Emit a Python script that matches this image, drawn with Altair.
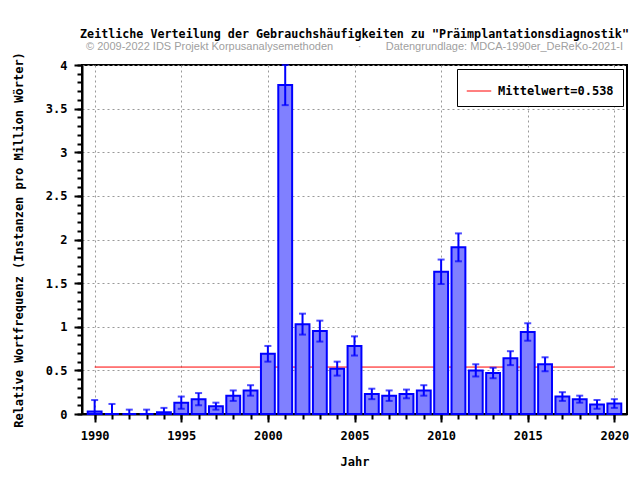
import altair as alt
import pandas as pd

years = list(range(1990, 2021))
values = [0.03, 0.0, 0.0, 0.0, 0.02, 0.13, 0.17, 0.09, 0.21, 0.27,
          0.69, 3.77, 1.03, 0.95, 0.52, 0.78, 0.23, 0.21, 0.23, 0.27,
          1.63, 1.91, 0.50, 0.47, 0.64, 0.94, 0.57, 0.20, 0.17, 0.11, 0.12]
upper = [0.16, 0.115, 0.05, 0.05, 0.07, 0.20, 0.24, 0.13, 0.27, 0.33,
         0.78, 4.0, 1.15, 1.07, 0.60, 0.89, 0.29, 0.27, 0.28, 0.33,
         1.77, 2.07, 0.57, 0.53, 0.72, 1.04, 0.65, 0.25, 0.21, 0.16, 0.17]
lower = [0.0, 0.0, 0.0, 0.0, 0.0, 0.06, 0.10, 0.05, 0.15, 0.21,
         0.60, 3.54, 0.91, 0.83, 0.44, 0.67, 0.17, 0.15, 0.18, 0.21,
         1.49, 1.75, 0.43, 0.41, 0.56, 0.84, 0.49, 0.15, 0.13, 0.06, 0.07]
mean_value = 0.538
mean_label = "Mittelwert=0.538"

x_major = [1990, 1995, 2000, 2005, 2010, 2015, 2020]
x_minor = list(range(1990, 2021))
y_major = [0, 0.5, 1, 1.5, 2, 2.5, 3, 3.5, 4]
y_minor = [round(i * 0.1, 1) for i in range(0, 41)]

df = pd.DataFrame({"year": years, "value": values, "hi": upper, "lo": lower})
mean_df = pd.DataFrame({"x": [1990], "x2": [2020], "y": [mean_value], "label": [mean_label]})

MONO = "DejaVu Sans Mono"

x_scale = alt.Scale(domain=[1989.27, 2020.73], nice=False, zero=False, padding=0)
y_scale = alt.Scale(domain=[0, 4], nice=False, padding=0)

x_axis = alt.Axis(values=x_major, format="d", labelOverlap=False, labelFlush=False,
                  grid=True, tickSize=8, title="Jahr", labelPadding=8, titlePadding=15)
y_axis = alt.Axis(values=y_major, format="~g", labelOverlap=False, labelFlush=False,
                  grid=True, tickSize=8, labelPadding=7, titlePadding=20,
                  title="Relative Wortfrequenz (Instanzen pro Million Wörter)")

x_axis_minor = alt.Axis(values=x_minor, labels=False, grid=False, domain=False,
                        tickSize=5, title=None, orient="bottom")
y_axis_minor = alt.Axis(values=y_minor, labels=False, grid=False, domain=False,
                        tickSize=5, title=None, orient="left")

base = alt.Chart(df).transform_calculate(
    x0="datum.year - 0.4", x1="datum.year + 0.4"
)

bars = base.mark_bar(fill="#8080ff", stroke="#0000ff", strokeWidth=2).encode(
    x=alt.X("x0:Q", scale=x_scale, axis=x_axis),
    x2="x1:Q",
    y=alt.Y("value:Q", scale=y_scale, axis=y_axis),
    y2=alt.Y2(datum=0),
)

err = base.mark_rule(color="#0000ff", strokeWidth=2).encode(
    x="year:Q", y="lo:Q", y2="hi:Q"
)
cap_hi = base.mark_tick(color="#0000ff", thickness=2, size=7, orient="horizontal").encode(
    x="year:Q", y="hi:Q"
)
cap_lo = base.mark_tick(color="#0000ff", thickness=2, size=7, orient="horizontal").encode(
    x="year:Q", y="lo:Q"
)

mean_rule = alt.Chart(mean_df).mark_rule(strokeWidth=1).encode(
    x="x:Q", x2="x2:Q", y="y:Q",
    color=alt.Color("label:N", scale=alt.Scale(range=["#ff0000"]),
                    legend=alt.Legend(title=None, orient="top-right", offset=4,
                                      strokeColor="black", fillColor="white",
                                      padding=9, symbolType="stroke", symbolSize=600,
                                      symbolStrokeWidth=1, labelFont=MONO,
                                      labelFontWeight="bold", labelFontSize=12,
                                      labelColor="black", labelOffset=6)),
)

main = alt.layer(mean_rule, bars, err, cap_hi, cap_lo)

minor = base.mark_point(opacity=0).encode(
    x=alt.X("year:Q", scale=x_scale, axis=x_axis_minor),
    y=alt.Y("value:Q", scale=y_scale, axis=y_axis_minor),
)

gap = "\u00a0" * 8
chart = alt.layer(main, minor).resolve_axis(
    x="independent", y="independent"
).properties(
    width=545, height=349,
    title=alt.TitleParams(
        text='Zeitliche Verteilung der Gebrauchshäufigkeiten zu "Präimplantationsdiagnostik"',
        subtitle=f"© 2009-2022 IDS Projekt Korpusanalysemethoden{gap}·{gap}Datengrundlage: MDCA-1990er_DeReKo-2021-I",
        font=MONO, fontWeight="bold", fontSize=11.7, color="black",
        subtitleFont="Liberation Sans", subtitleFontSize=11, subtitleColor="#a0a0a0",
        subtitlePadding=0, anchor="middle", offset=0,
    ),
    padding={"left": 4, "top": 20, "right": 0, "bottom": 5},
    background="white",
).configure_view(
    stroke="black", strokeWidth=2
).configure_axis(
    labelFont=MONO, labelFontWeight="bold", labelFontSize=12, labelColor="black",
    titleFont=MONO, titleFontWeight="bold", titleFontSize=12, titleColor="black",
    domainColor="black", domainWidth=2, tickColor="black", tickWidth=2,
    gridColor="#999999", gridDash=[2, 3], gridWidth=1,
    labelOverlap=False,
)

chart.save("out.html", embed_options={"renderer": "svg", "actions": False})
